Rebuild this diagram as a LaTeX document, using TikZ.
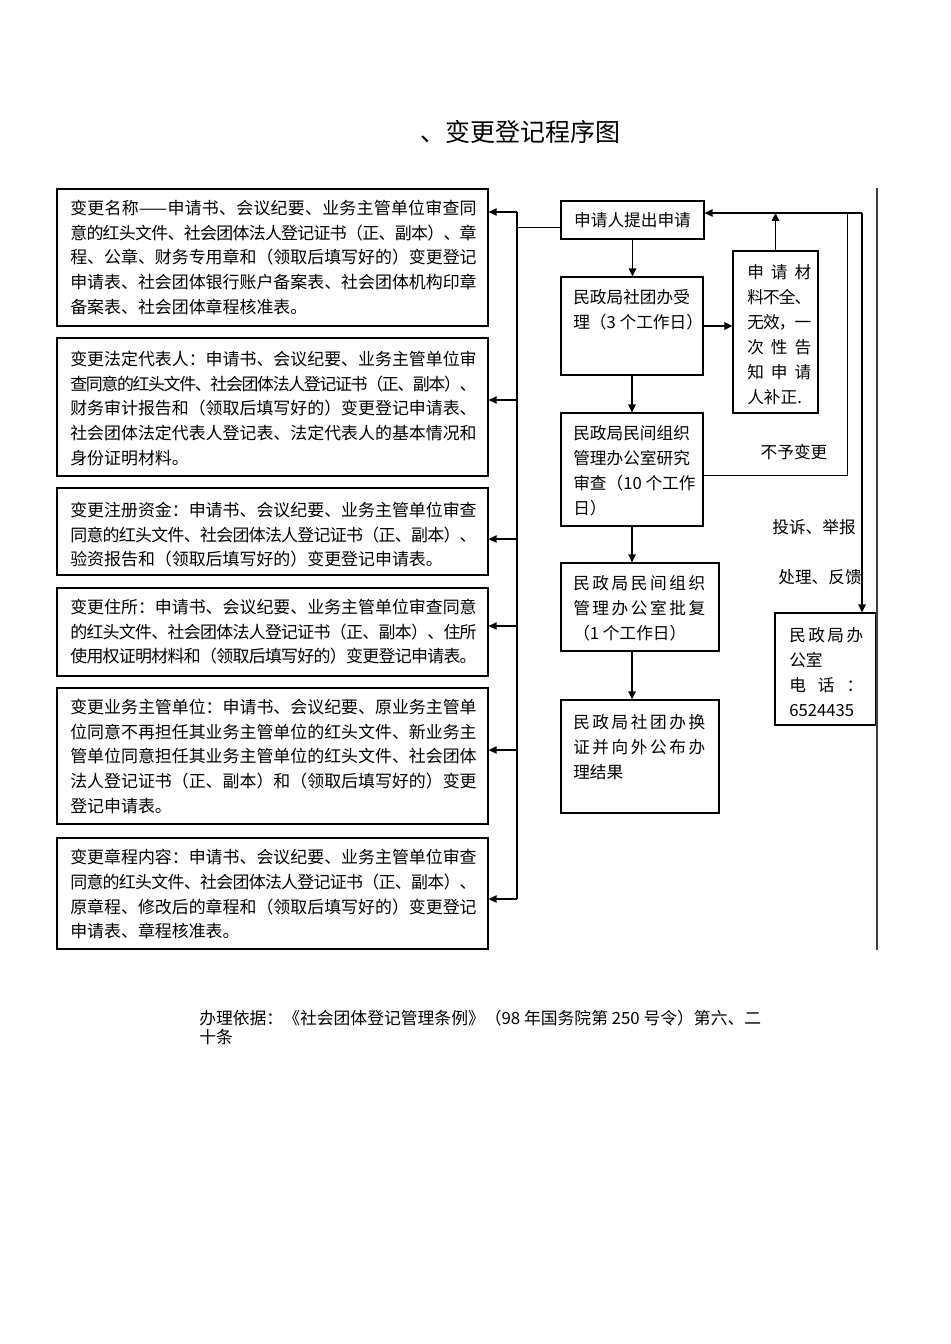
\documentclass[tikz,border=0pt]{standalone}
\usepackage{fontspec}
\setmainfont{Noto Sans CJK SC}
\usetikzlibrary{arrows.meta,fit,shadows,calc}
\makeatletter
\newcommand\jl[2]{\hbox to #1{\jl@a#2\jl@end}}
\def\jl@a#1{\ifx#1\jl@end\else #1\expandafter\jl@b\fi}
\def\jl@b#1{\ifx#1\jl@end\else\hss #1\expandafter\jl@b\fi}
\makeatother
\newcommand\ddash{\mbox{——}}
\newcommand\lfnt{\fontsize{12.7pt}{18.5pt}\selectfont}
\newcommand\rfnt{\fontsize{12.5pt}{18.75pt}\selectfont}
\newcommand\ffnt{\fontsize{12.6pt}{14.25pt}\selectfont}
\newcommand\tfnt{\fontsize{18.75pt}{22pt}\selectfont}
\begin{document}
\begin{tikzpicture}[x=0.75pt,y=-0.75pt,
  lbox/.style={draw, line width=0.9pt, fill=white, inner sep=0pt,
    drop shadow={shadow xshift=1.1pt, shadow yshift=-1.1pt, fill=black!70, opacity=1}},
  pbox/.style={draw, line width=0.8pt, fill=white, inner sep=0pt},
  txt/.style={anchor=north west, inner sep=0pt, align=left},
  arr/.style={line width=1.2pt, -{Triangle[length=6pt,width=5.5pt]}},
  bus/.style={line width=1.4pt},
  thinl/.style={line width=0.7pt},
  lab/.style={inner sep=0pt, font=\rfnt}]
\useasboundingbox[fill=white] (0,0) rectangle (950,1344);

% title
\node[inner sep=0pt, font=\tfnt] (title) at (520,132) {、变更登记程序图};

% left boxes
\node[lbox, fit={(57,189)(488,326)}] (b1) {};
\node[lbox, fit={(57,338)(488,476)}] (b2) {};
\node[lbox, fit={(57,488)(488,575)}] (b3) {};
\node[lbox, fit={(57,588)(488,676)}] (b4) {};
\node[lbox, fit={(57,688)(488,824)}] (b5) {};
\node[lbox, fit={(57,838)(488,949)}] (b6) {};

\node[txt, font=\lfnt] (t1) at (70,200) {%
\jl{24em}{变更名称\ddash 申请书、会议纪要、业务主管单位审查同}\\
\jl{24em}{意的红头文件、社会团体法人登记证书（正、副本）、章}\\
\jl{24em}{程、公章、财务专用章和（领取后填写好的）变更登记}\\
\jl{24em}{申请表、社会团体银行账户备案表、社会团体机构印章}\\
备案表、社会团体章程核准表。};
\node[txt, font=\lfnt] (t2) at (70,351) {%
\jl{24em}{变更法定代表人：申请书、会议纪要、业务主管单位审}\\
\jl{24em}{查同意的红头文件、社会团体法人登记证书（正、副本）、}\\
\jl{24em}{财务审计报告和（领取后填写好的）变更登记申请表、}\\
\jl{24em}{社会团体法定代表人登记表、法定代表人的基本情况和}\\
身份证明材料。};
\node[txt, font=\lfnt] (t3) at (70,502) {%
\jl{24em}{变更注册资金：申请书、会议纪要、业务主管单位审查}\\
\jl{24em}{同意的红头文件、社会团体法人登记证书（正、副本）、}\\
验资报告和（领取后填写好的）变更登记申请表。};
\node[txt, font=\lfnt] (t4) at (70,599) {%
\jl{24em}{变更住所：申请书、会议纪要、业务主管单位审查同意}\\
\jl{24em}{的红头文件、社会团体法人登记证书（正、副本）、住所}\\
\jl{24em}{使用权证明材料和（领取后填写好的）变更登记申请表。}};
\node[txt, font=\lfnt] (t5) at (70,699) {%
\jl{24em}{变更业务主管单位：申请书、会议纪要、原业务主管单}\\
\jl{24em}{位同意不再担任其业务主管单位的红头文件、新业务主}\\
\jl{24em}{管单位同意担任其业务主管单位的红头文件、社会团体}\\
\jl{24em}{法人登记证书（正、副本）和（领取后填写好的）变更}\\
登记申请表。};
\node[txt, font=\lfnt] (t6) at (70,849) {%
\jl{24em}{变更章程内容：申请书、会议纪要、业务主管单位审查}\\
\jl{24em}{同意的红头文件、社会团体法人登记证书（正、副本）、}\\
\jl{24em}{原章程、修改后的章程和（领取后填写好的）变更登记}\\
申请表、章程核准表。};

% bus
\coordinate (j1) at (517,212);
\coordinate (j2) at (517,400);
\coordinate (j3) at (517,539);
\coordinate (j4) at (517,626);
\coordinate (j5) at (517,750);
\coordinate (j6) at (517,899);
\coordinate (jA) at (517,227);
\draw[bus] (j1) -- (j6);
\foreach \i in {1,...,6} {\draw[arr] (j\i) -- (b\i.east |- j\i);}

% right boxes
\node[lbox, fit={(561,201)(704,239)}] (A) {};
\node[pbox, fit={(561,277)(703,375)}] (B) {};
\node[pbox, fit={(733,251)(818,413)}] (C) {};
\node[pbox, fit={(561,413)(703,526)}] (D) {};
\node[lbox, fit={(561,563)(719,651)}] (E) {};
\node[lbox, fit={(561,700)(719,813)}] (G) {};
\node[lbox, fit={(775,613)(876,725)}] (F) {};

\node[lab] (tA) at (A.center) {申请人提出申请};
\node[txt, font=\rfnt] (tB) at (573,289) {民政局社团办受\\理（3 个工作日）};
\node[txt, font=\rfnt] (tC) at (747,264) {%
\jl{48pt}{申请材}\\\jl{48pt}{料不全、}\\\jl{48pt}{无效，一}\\\jl{48pt}{次性告}\\\jl{48pt}{知申请}\\人补正.};
\node[txt, font=\rfnt] (tD) at (573,425) {民政局民间组织\\管理办公室研究\\审查（10 个工作\\日）};
\node[txt, font=\rfnt] (tE) at (573,575) {%
\jl{99pt}{民政局民间组织}\\\jl{99pt}{管理办公室批复}\\（1 个工作日）};
\node[txt, font=\rfnt] (tG) at (573,714) {%
\jl{99pt}{民政局社团办换}\\\jl{99pt}{证并向外公布办}\\理结果};
\node[txt, font=\rfnt] (tF) at (789,627) {%
\jl{55.5pt}{民政局办}\\公室\\\jl{55.5pt}{电话：}\\6524435};

\draw[thinl] (A.west |- jA) -- (jA);

\coordinate (tr) at (862,213);
\coordinate (nr) at (847,475);
\coordinate (r1) at (877,188);
\coordinate (r2) at (877,950);

\draw[arr] (A.south) -- (A.south |- B.north);
\draw[arr] (B.south) -- (B.south |- D.north);
\draw[arr] (D.south) -- (D.south |- E.north);
\draw[arr] (D.south |- E.south) -- (D.south |- G.north);
\draw[arr] (B.east) -- (B.east -| C.west);
\draw[arr] (C.north) -- (C.north |- tr);
\draw[arr] (tr) -- (A.east |- tr);
\draw[arr] (tr) -- (tr |- F.north);
\draw[thinl] (D.east |- nr) -- (nr) -- (nr |- tr);
\draw[line width=0.8pt, black!75] (r1) -- (r2);

\node[lab] (l1) at (794,452) {不予变更};
\node[lab] (l2) at (814,527) {投诉、举报};
\node[lab] (l3) at (820,577) {处理、反馈};

% footer
\node[txt, font=\ffnt] (foot) at (199,1010) {办理依据：《社会团体登记管理条例》（98 年国务院第 250 号令）第六、二\\十条};
\end{tikzpicture}
\end{document}
